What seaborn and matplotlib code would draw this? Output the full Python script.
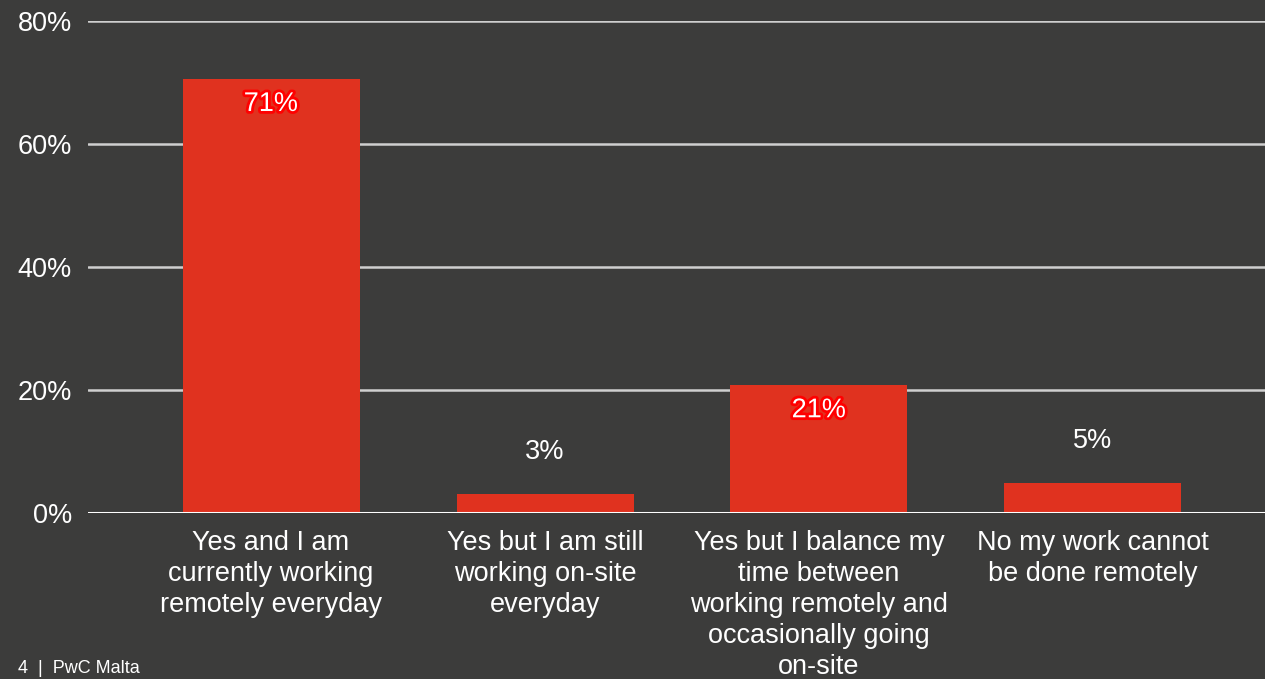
import matplotlib
matplotlib.use("Agg")
import matplotlib.pyplot as plt
import matplotlib.patheffects as pe
import seaborn as sns
import pandas as pd

categories = [
    "Yes and I am\ncurrently working\nremotely everyday",
    "Yes but I am still\nworking on-site\neveryday",
    "Yes but I balance my\ntime between\nworking remotely and\noccasionally going\non-site",
    "No my work cannot\nbe done remotely",
]
values = [70.6, 3.1, 20.8, 4.9]
labels = ["71%", "3%", "21%", "5%"]
inside = [True, False, True, False]
yticks = [0, 20, 40, 60, 80]
ytick_labels = ["0%", "20%", "40%", "60%", "80%"]

bg = "#3c3c3b"
bar_color = "#e0321f"
fs = 19.5

sns.set_theme(style="dark")
plt.rcParams["font.family"] = ["Liberation Sans", "DejaVu Sans"]

df = pd.DataFrame({"category": categories, "value": values})

fig = plt.figure(figsize=(12.65, 6.79), dpi=100, facecolor=bg)
ax = fig.add_axes([0.0696, 0.2445, 0.9304, 0.7246])
ax.set_facecolor(bg)

sns.barplot(data=df, x="category", y="value", color=bar_color,
            saturation=1, width=0.646, edgecolor="none", linewidth=0,
            ax=ax, zorder=3)

ax.set_ylim(0, 80)
ax.set_xlim(-0.668, 3.628)
ax.set_yticks(yticks)
ax.set_yticklabels(ytick_labels)
ax.yaxis.grid(True, color="#cfcfcf", linewidth=1.8, zorder=1)
ax.xaxis.grid(False)
ax.axhline(0, color="white", linewidth=2.2, zorder=4)
for s in ax.spines.values():
    s.set_visible(False)

ax.tick_params(axis="y", length=0, pad=11.5, labelsize=fs, labelcolor="white")
ax.tick_params(axis="x", length=0, pad=12, labelsize=fs, labelcolor="white")
for t in ax.get_xticklabels():
    t.set_linespacing(1.25)
ax.set_xlabel("")
ax.set_ylabel("")

for i, (v, lab, ins) in enumerate(zip(values, labels, inside)):
    if ins:
        ax.text(i, v - 4.1, lab, ha="center", va="center", fontsize=fs,
                color="white", zorder=5,
                path_effects=[pe.withStroke(linewidth=4, foreground="#ff0000")])
    else:
        ax.text(i, v + 6.8, lab, ha="center", va="center", fontsize=fs,
                color="white", zorder=5)

fig.text(18 / 1265, 1 - 660 / 679, "4  |  PwC Malta", ha="left", va="top",
         fontsize=13, color="white")

fig.savefig("out.png", dpi=100, facecolor=bg)
